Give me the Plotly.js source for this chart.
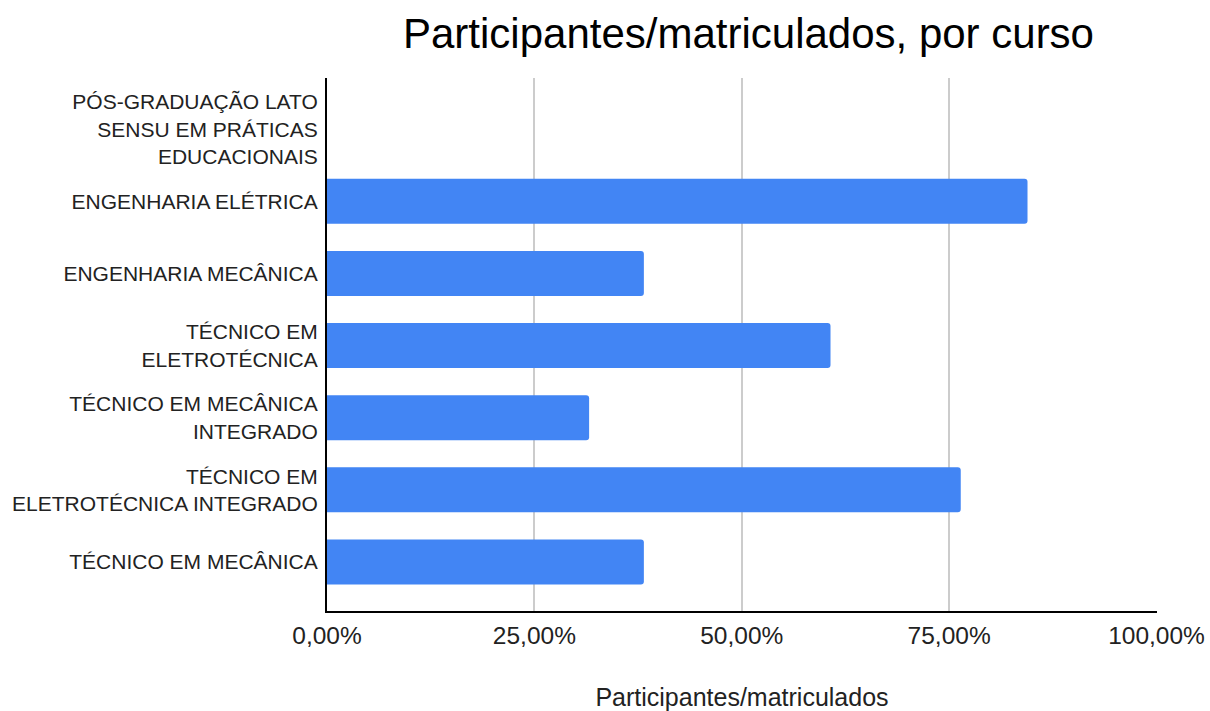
<!DOCTYPE html>
<html>
<head>
<meta charset="utf-8">
<script src="https://cdn.plot.ly/plotly-3.0.1.min.js"></script>
<style>
  html, body { margin: 0; padding: 0; background: #fff; }
  #chart { width: 1210px; height: 711px; }
</style>
</head>
<body>
<div id="chart"></div>
<script>
const categories = [
  "PÓS-GRADUAÇÃO LATO<br>SENSU EM PRÁTICAS<br>EDUCACIONAIS",
  "ENGENHARIA ELÉTRICA",
  "ENGENHARIA MECÂNICA",
  "TÉCNICO EM<br>ELETROTÉCNICA",
  "TÉCNICO EM MECÂNICA<br>INTEGRADO",
  "TÉCNICO EM<br>ELETROTÉCNICA INTEGRADO",
  "TÉCNICO EM MECÂNICA"
];
const values = [0, 0.8445, 0.382, 0.607, 0.316, 0.764, 0.382];
const tickVals = [0, 0.25, 0.5, 0.75, 1];

const font = "'Liberation Sans', Arial, sans-serif";

const trace = {
  type: "bar",
  orientation: "h",
  x: values,
  y: categories,
  width: 0.625,
  marker: { color: "#4285F4", cornerradius: 3 },
  hoverinfo: "x+y"
};

const layout = {
  width: 1210,
  height: 711,
  separators: ",.",
  margin: { l: 327, r: 53, t: 78, b: 100, pad: 0 },
  paper_bgcolor: "#ffffff",
  plot_bgcolor: "#ffffff",
  font: { family: font, color: "#222222" },
  showlegend: false,
  title: {
    text: "Participantes/matriculados, por curso",
    font: { family: font, size: 42, color: "#000000" },
    xref: "container", yref: "container",
    x: 0.6186, xanchor: "center",
    y: 1 - 33 / 711, yanchor: "middle"
  },
  xaxis: {
    range: [0, 1.0006],
    tickvals: tickVals,
    tickformat: ".2%",
    tickfont: { family: font, size: 24.5, color: "#222222" },
    showgrid: true,
    gridcolor: "#cccccc",
    gridwidth: 2,
    zeroline: false,
    showline: true,
    linecolor: "#000000",
    linewidth: 2,
    ticks: "outside",
    ticklen: 2,
    tickcolor: "rgba(0,0,0,0)",
    title: {
      text: "Participantes/matriculados",
      font: { family: font, size: 25, color: "#222222" },
      standoff: 40
    },
    fixedrange: true
  },
  yaxis: {
    type: "category",
    categoryorder: "array",
    categoryarray: categories,
    range: [6.68, -0.71],
    tickfont: { family: font, size: 21, color: "#222222" },
    showgrid: false,
    zeroline: false,
    showline: true,
    linecolor: "#000000",
    linewidth: 2,
    ticks: "outside",
    ticklen: 3,
    tickcolor: "rgba(0,0,0,0)",
    fixedrange: true
  }
};

Plotly.newPlot("chart", [trace], layout, { displayModeBar: false, staticPlot: true });
</script>
</body>
</html>
